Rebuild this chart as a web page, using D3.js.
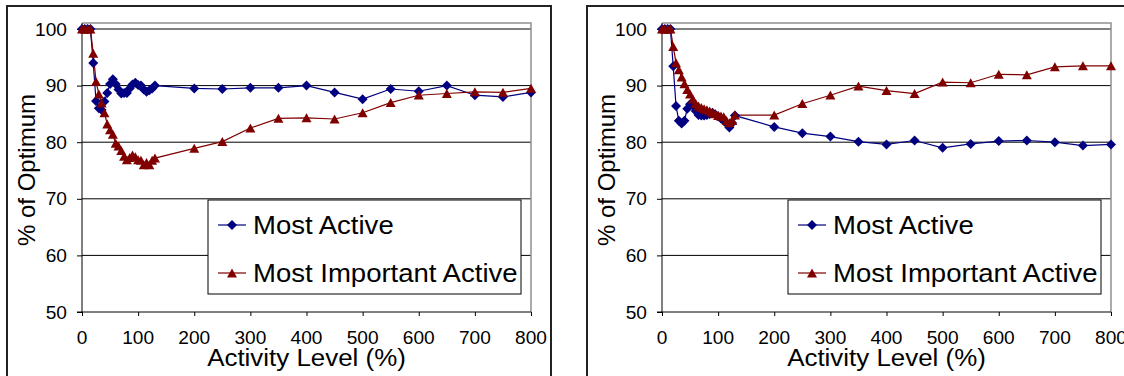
<!DOCTYPE html>
<html><head><meta charset="utf-8">
<script src="https://cdn.jsdelivr.net/npm/d3@7"></script>
<style>html,body{margin:0;padding:0;background:#fff;overflow:hidden} svg{display:block}</style>
</head><body><svg id="c" width="1124" height="376"></svg>
<script>
const activityLevels = [0,5,10,15,20,25,30,35,40,45,50,55,60,65,70,75,80,85,90,95,100,105,110,115,120,125,130,
  200,250,300,350,400,450,500,550,600,650,700,750,800];
const leftMostActive = [100,100,100,100,94,87.3,86,85.7,87.2,88.7,90.3,91.1,90.3,89.3,88.6,88.7,88.7,89.5,90.2,90.5,90.1,90,89.3,88.9,89.2,89.5,90,
  89.5,89.4,89.6,89.6,90,88.8,87.6,89.4,89,90,88.3,88,88.8];
const leftMostImportant = [100,100,100,100,95.7,90.7,88.5,86.9,85.2,83.2,82.2,81.4,79.8,79.3,78.5,77.5,76.9,77.3,77.7,77.4,76.9,76.8,76.0,76.4,76.0,76.8,77.2,
  78.9,80.1,82.5,84.2,84.3,84.1,85.2,87.0,88.3,88.6,88.9,88.8,89.5];
const rightMostActive = [100,100,100,100,93.4,86.4,83.8,83.3,83.8,85.9,86.7,86.5,85.5,84.8,84.7,84.7,84.8,85,85.2,84.9,84.6,84.2,83.8,83.3,82.6,83.4,84.7,
  82.7,81.6,81.0,80.1,79.6,80.3,79.0,79.7,80.2,80.3,80.0,79.4,79.6];
const rightMostImportant = [100,100,100,100,96.9,94,92.8,91.5,90.3,89.3,88.5,87.6,86.8,86.4,86.1,85.9,85.7,85.5,85.2,85,84.7,84.6,84.5,83.8,83.4,83.8,84.8,
  84.8,86.8,88.3,89.9,89.1,88.6,90.6,90.5,92,91.9,93.3,93.5,93.5];
const xTicks = [0,100,200,300,400,500,600,700,800];
const yTicks = [50,60,70,80,90,100];
const seriesNames = ["Most Active","Most Important Active"];
const xTitle = "Activity Level (%)";
const yTitle = "% of Optimum";

const FONT = "'Liberation Sans', Arial, Helvetica, sans-serif";
const SX = 1.08;
const BLUE = "#000080", RED = "#800000";
const svg = d3.select("#c");

function txt(g, x, y, s, size, anchor) {
  return g.append("text")
    .attr("transform", `translate(${x},${y}) scale(${SX},1)`)
    .attr("font-family", FONT).attr("font-size", size)
    .attr("text-anchor", anchor).attr("fill", "#000").text(s);
}
const diamond = "M0,-5L5,0L0,5L-5,0Z";
const triangle = "M0,-4.6L5,4.4L-5,4.4Z";

function drawChart(offsetX, seriesA, seriesB) {
  const g = svg.append("g").attr("transform", `translate(${offsetX},0)`);
  g.append("rect").attr("x", 7).attr("y", 6).attr("width", 544).attr("height", 420)
    .attr("fill", "#fff").attr("stroke", "#222").attr("stroke-width", 2);

  const x = d3.scaleLinear().domain([0, 800]).range([82, 531]);
  const y = d3.scaleLinear().domain([50, 100]).range([312, 29]);
  const topY = y(101.05);

  // gridlines
  g.append("g").selectAll("line").data(yTicks.filter(d => d > 50)).join("line")
    .attr("x1", x(0)).attr("x2", x(800)).attr("y1", d => y(d)).attr("y2", d => y(d))
    .attr("stroke", "#000").attr("stroke-width", 1);
  // plot area top/right border
  g.append("path").attr("d", `M${x(0)},${topY}H${x(800)}V${y(50)}`)
    .attr("fill", "none").attr("stroke", "#909090").attr("stroke-width", 1.5);

  // axes
  const yAxis = d3.axisLeft(y).tickValues(yTicks).tickSize(5).tickFormat("");
  const ya = g.append("g").attr("transform", `translate(${x(0)},0)`).call(yAxis);
  ya.select(".domain").remove();
  ya.selectAll("line").attr("stroke", "#000");
  g.append("line").attr("x1", x(0)).attr("x2", x(0)).attr("y1", topY).attr("y2", y(50))
    .attr("stroke", "#000").attr("stroke-width", 1);
  const xAxis = d3.axisBottom(x).tickValues(xTicks).tickSize(4).tickFormat("");
  const xa = g.append("g").attr("transform", `translate(0,${y(50)})`).call(xAxis);
  xa.select(".domain").remove();
  xa.selectAll("line").attr("stroke", "#000");
  g.append("line").attr("x1", x(0) - 5).attr("x2", x(800)).attr("y1", y(50)).attr("y2", y(50))
    .attr("stroke", "#000").attr("stroke-width", 1);

  yTicks.forEach(t => txt(g, 67, y(t) + 6.5, String(t), 17.7, "end"));
  xTicks.forEach(t => txt(g, x(t), 343.5, String(t), 17.7, "middle"));
  txt(g, (x(0) + x(800)) / 2, 366, xTitle, 24, "middle");
  g.append("text").attr("transform", `translate(35,170) rotate(-90)`)
    .attr("font-family", FONT).attr("font-size", 24).attr("text-anchor", "middle").text(yTitle);

  const line = d3.line().x((d, i) => x(activityLevels[i])).y(d => y(d));
  [[seriesA, BLUE, diamond], [seriesB, RED, triangle]].forEach(([vals, col, shape]) => {
    g.append("path").datum(vals).attr("d", line).attr("fill", "none")
      .attr("stroke", col).attr("stroke-width", 1.2);
  });
  [[seriesA, BLUE, diamond], [seriesB, RED, triangle]].forEach(([vals, col, shape]) => {
    g.append("g").selectAll("path").data(vals).join("path")
      .attr("transform", (d, i) => `translate(${x(activityLevels[i])},${y(d)})`)
      .attr("d", shape).attr("fill", col);
  });

  // legend
  const lg = g.append("g");
  lg.append("rect").attr("x", 208).attr("y", 200).attr("width", 313).attr("height", 94)
    .attr("fill", "#fff").attr("stroke", "#000").attr("stroke-width", 1);
  [[BLUE, diamond, 225], [RED, triangle, 273]].forEach(([col, shape, ly], i) => {
    lg.append("line").attr("x1", 218).attr("x2", 246).attr("y1", ly).attr("y2", ly)
      .attr("stroke", col).attr("stroke-width", 1.2);
    lg.append("path").attr("transform", `translate(232,${ly})`).attr("d", shape).attr("fill", col);
    txt(lg, 253, ly + 8.5, seriesNames[i], 25.5, "start");
  });
}

drawChart(0, leftMostActive, leftMostImportant);
drawChart(580, rightMostActive, rightMostImportant);
</script></body></html>
